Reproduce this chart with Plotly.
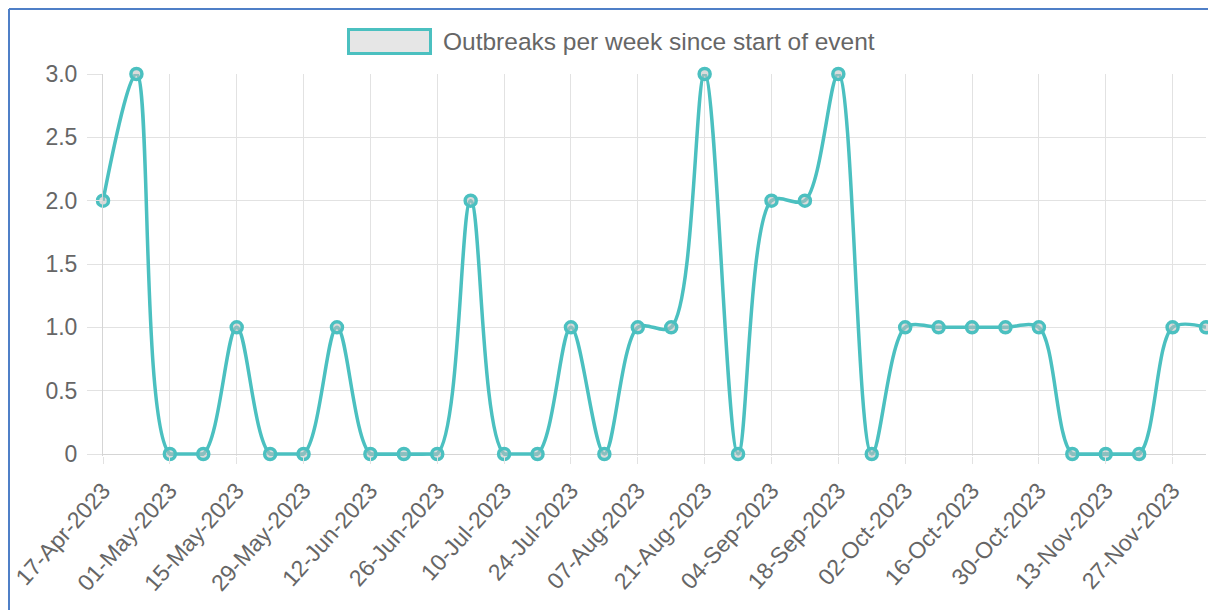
import plotly.graph_objects as go

weeks = ["17-Apr-2023","24-Apr-2023","01-May-2023","08-May-2023","15-May-2023","22-May-2023",
         "29-May-2023","05-Jun-2023","12-Jun-2023","19-Jun-2023","26-Jun-2023","03-Jul-2023",
         "10-Jul-2023","17-Jul-2023","24-Jul-2023","31-Jul-2023","07-Aug-2023","14-Aug-2023",
         "21-Aug-2023","28-Aug-2023","04-Sep-2023","11-Sep-2023","18-Sep-2023","25-Sep-2023",
         "02-Oct-2023","09-Oct-2023","16-Oct-2023","23-Oct-2023","30-Oct-2023","06-Nov-2023",
         "13-Nov-2023","20-Nov-2023","27-Nov-2023","04-Dec-2023"]
outbreaks = [2,3,0,0,1,0,0,1,0,0,0,2,0,0,1,0,1,1,3,0,2,2,3,0,1,1,1,1,1,0,0,0,1,1]
series_name = "Outbreaks per week since start of event"
y_ticks = [0, 0.5, 1, 1.5, 2, 2.5, 3]
y_ticktext = ["0", "0.5", "1.0", "1.5", "2.0", "2.5", "3.0"]

OFF = 8  # page body margin
EXT = 2  # extra px below zero so the zero-level line is not clipped
W, H = 1216 - OFF, 610 - OFF
L, R, T, B = 103 - OFF, 10, 74 - OFF, 156 - EXT
pw, ph = W - L - R, H - T - B
y_lo = -EXT * 3.0 / (ph - EXT)

def px_x(x):  # page pixel -> paper
    return (x - OFF - L) / pw

def px_y(y):
    return (H - B - (y - OFF)) / ph

teal = "rgb(75,192,192)"
xs = list(range(len(weeks)))
n = len(outbreaks)

# flat runs at zero (chart.js caps bezier control points, keeping these flat)
zero_runs = []
for i, v in enumerate(outbreaks):
    in_run = v == 0 and ((i > 0 and outbreaks[i - 1] == 0) or (i < n - 1 and outbreaks[i + 1] == 0))
    zero_runs.append(v if in_run else None)

fig = go.Figure()
fig.add_trace(go.Scatter(
    x=xs, y=zero_runs, mode="lines", connectgaps=False,
    line=dict(color=teal, width=3.5), showlegend=False, hoverinfo="skip",
))
fig.add_trace(go.Scatter(
    x=xs, y=outbreaks, name=series_name, mode="lines+markers",
    line=dict(color=teal, width=3.5, shape="spline", smoothing=0.9),
    marker=dict(size=11, color="rgba(190,190,190,0.55)", line=dict(color=teal, width=3.5)),
    cliponaxis=False, showlegend=False,
))

font_fam = "Liberation Sans, Arial, sans-serif"
FS = 23
tick_idx = xs[::2]
fig.update_layout(
    width=W, height=H, autosize=False,
    margin=dict(l=L, r=R, t=T, b=B, pad=0),
    paper_bgcolor="white", plot_bgcolor="white",
    font=dict(family=font_fam, size=FS, color="#666666"),
    xaxis=dict(
        range=[0, len(weeks) - 1], tickmode="array", tickvals=tick_idx,
        ticktext=[weeks[i] for i in tick_idx], tickangle=-48,
        showgrid=True, gridcolor="#e2e2e2", gridwidth=1,
        ticks="outside", ticklen=7, tickcolor="#e2e2e2", tickwidth=1,
        showline=False, zeroline=False,
        tickfont=dict(size=FS, color="#666666"), automargin=False,
        ticklabelstandoff=4,
    ),
    yaxis=dict(
        range=[y_lo, 3], tickmode="array", tickvals=y_ticks, ticktext=y_ticktext,
        showgrid=True, gridcolor="#e2e2e2", gridwidth=1,
        ticks="outside", ticklen=15, tickcolor="#e2e2e2", tickwidth=1,
        showline=True, linecolor="#d5d5d5", linewidth=1,
        zeroline=True, zerolinecolor="#d5d5d5", zerolinewidth=1,
        tickfont=dict(size=FS, color="#666666"), automargin=False,
        ticklabelstandoff=5,
    ),
)

# custom legend (box swatch + text)
fig.add_shape(type="rect", xref="paper", yref="paper",
              x0=px_x(348.5), x1=px_x(430.5), y0=px_y(53.5), y1=px_y(29.5),
              fillcolor="#e6e6e6", line=dict(color=teal, width=3), layer="above")
fig.add_annotation(xref="paper", yref="paper", x=px_x(441), y=px_y(41.5),
                   xanchor="left", yanchor="middle", showarrow=False,
                   text=series_name, font=dict(size=24.5, color="#666666", family=font_fam))

# frame border of the original image
border = "#4f7fc7"
fig.add_shape(type="line", xref="paper", yref="paper",
              x0=px_x(9), x1=px_x(1216), y0=px_y(9), y1=px_y(9),
              line=dict(color=border, width=2), layer="above")
fig.add_shape(type="line", xref="paper", yref="paper",
              x0=px_x(9), x1=px_x(9), y0=px_y(9), y1=px_y(610),
              line=dict(color=border, width=2), layer="above")

fig.write_html("out.html")
